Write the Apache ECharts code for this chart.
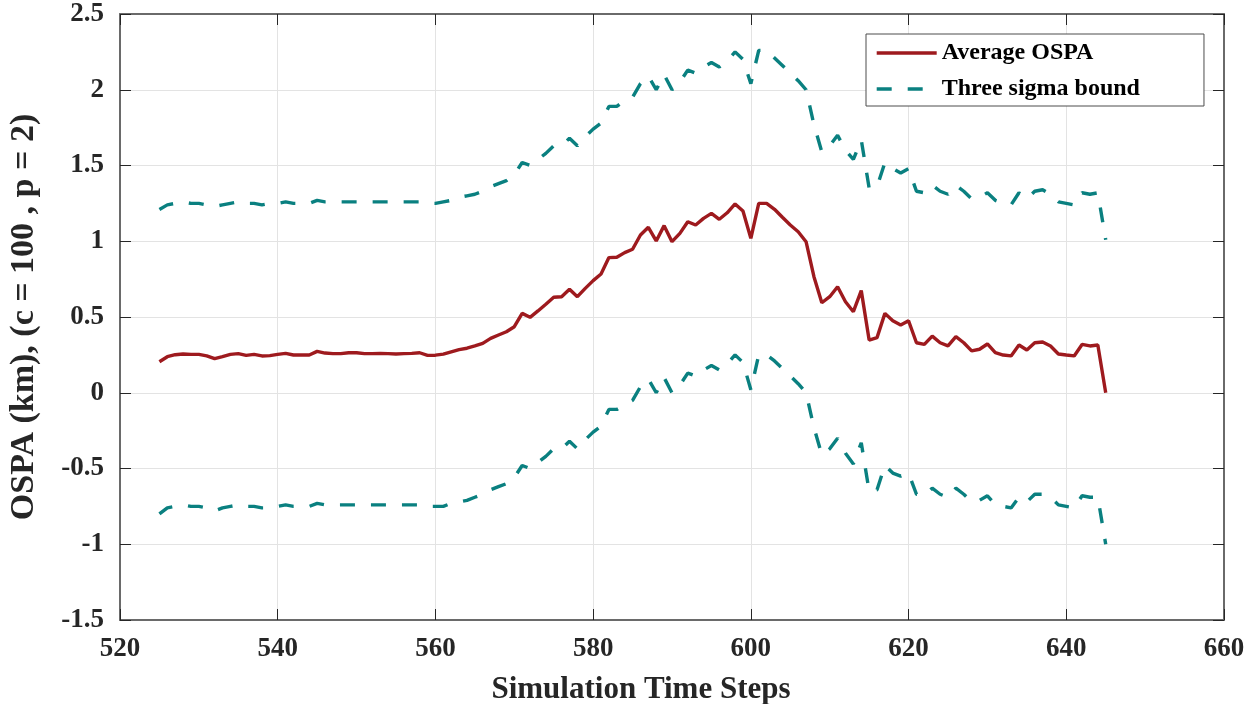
<!DOCTYPE html>
<html>
<head>
<meta charset="utf-8">
<script src="https://cdn.jsdelivr.net/npm/echarts@6/dist/echarts.min.js"></script>
<style>
html,body{margin:0;padding:0;background:#fff;}
#chart{width:1247px;height:704px;}
</style>
</head>
<body>
<div id="chart"></div>
<script>
// Time steps 525..645
const timeStart = 525;
const timeEnd = 645;

const averageOSPA = [
  0.205,0.238,0.251,0.256,0.253,0.253,0.243,0.225,0.238,0.253,
  0.258,0.247,0.253,0.243,0.245,0.253,0.260,0.249,0.249,0.249,
  0.273,0.262,0.258,0.258,0.264,0.264,0.258,0.258,0.260,0.258,
  0.256,0.258,0.260,0.264,0.247,0.248,0.255,0.270,0.285,0.294,
  0.309,0.326,0.359,0.381,0.403,0.436,0.524,0.498,0.540,0.584,
  0.630,0.634,0.683,0.634,0.689,0.740,0.784,0.892,0.894,0.925,
  0.947,1.041,1.092,1.002,1.103,0.997,1.052,1.129,1.107,1.151,
  1.184,1.145,1.188,1.246,1.200,1.019,1.250,1.250,1.211,1.158,
  1.107,1.063,0.997,0.766,0.594,0.634,0.700,0.601,0.535,0.674,
  0.348,0.364,0.524,0.475,0.447,0.475,0.330,0.319,0.374,0.330,
  0.309,0.370,0.330,0.276,0.287,0.322,0.265,0.249,0.243,0.315,
  0.282,0.330,0.335,0.309,0.256,0.249,0.243,0.319,0.309,0.315,
  0.000
];

const upperBound = [
  1.21,1.24,1.25,1.26,1.25,1.25,1.24,1.23,1.24,1.25,
  1.26,1.25,1.25,1.24,1.25,1.25,1.26,1.25,1.25,1.25,
  1.27,1.26,1.26,1.26,1.26,1.26,1.26,1.26,1.26,1.26,
  1.26,1.26,1.26,1.26,1.25,1.25,1.26,1.27,1.29,1.30,
  1.31,1.33,1.36,1.38,1.40,1.44,1.52,1.50,1.54,1.58,
  1.63,1.63,1.68,1.63,1.69,1.74,1.78,1.89,1.89,1.93,
  1.95,2.04,2.09,2.00,2.10,2.00,2.05,2.13,2.11,2.15,
  2.18,2.15,2.19,2.25,2.20,2.04,2.26,2.26,2.21,2.16,
  2.11,2.06,2.00,1.77,1.59,1.63,1.70,1.60,1.54,1.67,
  1.35,1.36,1.52,1.48,1.45,1.48,1.33,1.32,1.37,1.33,
  1.31,1.37,1.33,1.28,1.29,1.32,1.27,1.25,1.24,1.32,
  1.28,1.33,1.34,1.31,1.26,1.25,1.24,1.32,1.31,1.32,
  1.01
];

const lowerBound = [
  -0.80,-0.76,-0.75,-0.74,-0.75,-0.75,-0.76,-0.78,-0.76,-0.75,
  -0.74,-0.75,-0.75,-0.76,-0.76,-0.75,-0.74,-0.75,-0.75,-0.75,
  -0.73,-0.74,-0.74,-0.74,-0.74,-0.74,-0.74,-0.74,-0.74,-0.74,
  -0.74,-0.74,-0.74,-0.74,-0.75,-0.75,-0.75,-0.73,-0.72,-0.71,
  -0.69,-0.67,-0.64,-0.62,-0.60,-0.56,-0.48,-0.50,-0.46,-0.42,
  -0.37,-0.37,-0.32,-0.37,-0.31,-0.26,-0.22,-0.11,-0.11,-0.08,
  -0.05,0.04,0.09,0.00,0.10,0.00,0.05,0.13,0.11,0.15,
  0.18,0.15,0.19,0.25,0.20,0.02,0.25,0.25,0.21,0.16,
  0.11,0.06,0.00,-0.23,-0.41,-0.37,-0.30,-0.40,-0.47,-0.33,
  -0.65,-0.64,-0.48,-0.53,-0.55,-0.53,-0.67,-0.68,-0.63,-0.67,
  -0.69,-0.63,-0.67,-0.72,-0.71,-0.68,-0.74,-0.75,-0.76,-0.69,
  -0.72,-0.67,-0.67,-0.69,-0.74,-0.75,-0.76,-0.68,-0.69,-0.69,
  -1.00
];

const xTicks = { min: 520, max: 660, interval: 20 };
const yTicks = { min: -1.5, max: 2.5, interval: 0.5 };

const seriesNames = ['Average OSPA', 'Three sigma bound'];
const xLabel = 'Simulation Time Steps';
const yLabel = 'OSPA (km), (c = 100 , p = 2)';

const steps = [];
for (let t = timeStart; t <= timeEnd; t++) steps.push(t);
const pair = arr => steps.map((t, i) => [t, arr[i]]);

const FONT = "'Liberation Serif', 'Times New Roman', serif";
const AX = '#262626';
const RED = '#9E1A1E';
const TEAL = '#0A8080';

const tickStyle = { show: true, inside: true, length: 11, lineStyle: { color: AX, width: 1 } };
const boxLine = { show: true, onZero: false, lineStyle: { color: '#6a6a6a', width: 2 } };

const chart = echarts.init(document.getElementById('chart'), null, { renderer: 'canvas' });
chart.setOption({
  animation: false,
  backgroundColor: '#ffffff',
  grid: { left: 120, right: 23, top: 14, bottom: 84, containLabel: false, outerBoundsMode: 'none' },
  legend: {
    show: true,
    orient: 'vertical',
    left: 866, top: 34,
    padding: [7, 64, 5, 9],
    itemGap: 12,
    itemWidth: 60, itemHeight: 14,
    borderColor: '#4d4d4d', borderWidth: 1,
    backgroundColor: '#ffffff',
    itemStyle: { opacity: 0, borderWidth: 0 },
    lineStyle: { width: 3.4 },
    textStyle: { fontFamily: FONT, fontWeight: 'bold', fontSize: 24, color: '#000' },
    data: [seriesNames[0], seriesNames[1]]
  },
  xAxis: [{
    type: 'value', min: xTicks.min, max: xTicks.max, interval: xTicks.interval,
    name: xLabel, nameLocation: 'middle', nameGap: 54,
    nameTextStyle: { fontFamily: FONT, fontWeight: 'bold', fontSize: 31, color: AX, padding: [0, 62, 0, 0] },
    axisLine: boxLine, axisTick: tickStyle,
    axisLabel: { margin: 16, fontFamily: FONT, fontWeight: 'bold', fontSize: 27, color: AX },
    splitLine: { show: true, lineStyle: { color: '#e3e3e3', width: 1 } }
  }, {
    type: 'value', position: 'top', min: xTicks.min, max: xTicks.max, interval: xTicks.interval,
    axisLine: boxLine, axisTick: tickStyle, axisLabel: { show: false }, splitLine: { show: false }
  }],
  yAxis: [{
    type: 'value', min: yTicks.min, max: yTicks.max, interval: yTicks.interval,
    name: yLabel, nameLocation: 'middle', nameGap: 79,
    nameTextStyle: { fontFamily: FONT, fontWeight: 'bold', fontSize: 34, color: AX },
    axisLine: boxLine, axisTick: tickStyle,
    axisLabel: { margin: 16, fontFamily: FONT, fontWeight: 'bold', fontSize: 27, color: AX },
    splitLine: { show: true, lineStyle: { color: '#e3e3e3', width: 1 } }
  }, {
    type: 'value', position: 'right', min: yTicks.min, max: yTicks.max, interval: yTicks.interval,
    axisLine: boxLine, axisTick: tickStyle, axisLabel: { show: false }, splitLine: { show: false }
  }],
  series: [
    {
      name: seriesNames[0], type: 'line', data: pair(averageOSPA),
      showSymbol: false, symbol: 'none', smooth: false,
      lineStyle: { color: RED, width: 3.4 }, itemStyle: { color: RED }, z: 3
    },
    {
      name: seriesNames[1], type: 'line', data: pair(upperBound),
      showSymbol: false, symbol: 'none',
      lineStyle: { color: TEAL, width: 3.4, type: [15, 16] }, itemStyle: { color: TEAL }, z: 2
    },
    {
      name: seriesNames[1], type: 'line', data: pair(lowerBound),
      showSymbol: false, symbol: 'none',
      lineStyle: { color: TEAL, width: 3.4, type: [15, 16] }, itemStyle: { color: TEAL }, z: 2
    }
  ]
});
</script>
</body>
</html>
